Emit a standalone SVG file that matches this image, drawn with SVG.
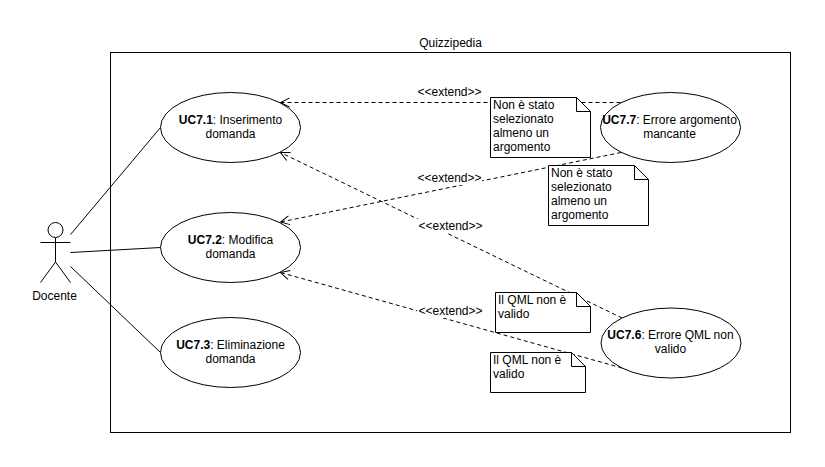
<svg xmlns="http://www.w3.org/2000/svg" width="825" height="467" viewBox="0 0 825 467">
<style>
text{font-family:"Liberation Sans",Arial,Helvetica,sans-serif;font-size:12px;fill:#000;text-anchor:middle}
.l{text-anchor:start}
.b{font-weight:bold}
.s{fill:#fff;stroke:#000;stroke-width:1}
.a{fill:none;stroke:#000;stroke-width:1}
.d{fill:none;stroke:#000;stroke-width:1;stroke-dasharray:4 3;marker-end:url(#o)}
.w{fill:#fff;stroke:none}
</style>
<defs>
<marker id="o" markerUnits="userSpaceOnUse" markerWidth="14" markerHeight="14" refX="13" refY="7" orient="auto" viewBox="0 0 14 14">
<path d="M4 2.5L13 7L4 11.5" fill="none" stroke="#000" stroke-width="1"/>
</marker>
</defs>
<rect width="825" height="467" fill="#fff"/>
<g id="frame">
<rect x="110.5" y="52.5" width="680" height="380" fill="#fff" stroke="#000"/>
<text x="450.5" y="47">Quizzipedia</text>
</g>
<g id="docente">
<circle class="s" cx="55.5" cy="230" r="7.5"/>
<path class="a" d="M55.5 237.5V262M40.5 242.5H70.5M40.5 282.5L55.5 262L70.5 282.5"/>
<text x="54.5" y="300">Docente</text>
</g>
<g id="uc71">
<ellipse class="s" cx="230.5" cy="127.5" rx="70" ry="35"/>
<text x="230.5" y="123.5"><tspan class="b">UC7.1</tspan>: Inserimento</text>
<text x="230.5" y="137.5">domanda</text>
</g>
<g id="uc72">
<ellipse class="s" cx="230.5" cy="247.5" rx="70" ry="35"/>
<text x="230.5" y="243.5"><tspan class="b">UC7.2</tspan>: Modifica</text>
<text x="230.5" y="257.5">domanda</text>
</g>
<g id="uc73">
<ellipse class="s" cx="230.5" cy="352.5" rx="70" ry="35"/>
<text x="230.5" y="348.5"><tspan class="b">UC7.3</tspan>: Eliminazione</text>
<text x="230.5" y="362.5">domanda</text>
</g>
<g id="uc77">
<ellipse class="s" cx="670.5" cy="127.5" rx="70" ry="35"/>
<text x="669.5" y="123.5"><tspan class="b">UC7.7</tspan>: Errore argomento</text>
<text x="669.5" y="137.5">mancante</text>
</g>
<g id="uc76">
<ellipse class="s" cx="671" cy="343" rx="70" ry="35"/>
<text x="670.5" y="339"><tspan class="b">UC7.6</tspan>: Errore QML non</text>
<text x="670.5" y="353">valido</text>
</g>
<g id="connectors">
<path class="a" d="M70.5 234.5L160.5 127.5"/>
<path class="a" d="M70.5 252.5L160.5 247.5"/>
<path class="a" d="M70.5 266.5L160.5 352.5"/>
<path class="d" d="M620.5 102.5L280.5 102.5"/>
<path class="d" d="M621 152.5L280.5 222"/>
<path class="d" d="M622 318L280.5 152.5"/>
<path class="d" d="M622 368L280.5 272.5"/>
<rect class="w" x="417" y="171" width="65" height="14"/>
<rect class="w" x="417" y="219" width="65" height="14"/>
<rect class="w" x="417" y="304" width="65" height="14"/>
<text x="449.5" y="96">&lt;&lt;extend&gt;&gt;</text>
<text x="449.5" y="182">&lt;&lt;extend&gt;&gt;</text>
<text x="450.5" y="230">&lt;&lt;extend&gt;&gt;</text>
<text x="450.5" y="315">&lt;&lt;extend&gt;&gt;</text>
</g>
<g id="note1">
<path class="s" d="M490.5 97.5H576.5L590.5 111.5V157.5H490.5Z"/>
<path class="a" d="M576.5 97.5V111.5H590.5"/>
<text class="l" x="493" y="109">Non è stato</text>
<text class="l" x="493" y="123">selezionato</text>
<text class="l" x="493" y="137">almeno un</text>
<text class="l" x="493" y="151">argomento</text>
</g>
<g id="note2">
<path class="s" d="M548.5 165.5H634.5L648.5 179.5V225.5H548.5Z"/>
<path class="a" d="M634.5 165.5V179.5H648.5"/>
<text class="l" x="551" y="177">Non è stato</text>
<text class="l" x="551" y="191">selezionato</text>
<text class="l" x="551" y="205">almeno un</text>
<text class="l" x="551" y="219">argomento</text>
</g>
<g id="note3">
<path class="s" d="M495.5 292.5H576.5L590.5 306.5V332.5H495.5Z"/>
<path class="a" d="M576.5 292.5V306.5H590.5"/>
<text class="l" x="498" y="304">Il QML non è</text>
<text class="l" x="498" y="318">valido</text>
</g>
<g id="note4">
<path class="s" d="M490.5 352.5H571.5L585.5 366.5V392.5H490.5Z"/>
<path class="a" d="M571.5 352.5V366.5H585.5"/>
<text class="l" x="493" y="364">Il QML non è</text>
<text class="l" x="493" y="378">valido</text>
</g>
</svg>
